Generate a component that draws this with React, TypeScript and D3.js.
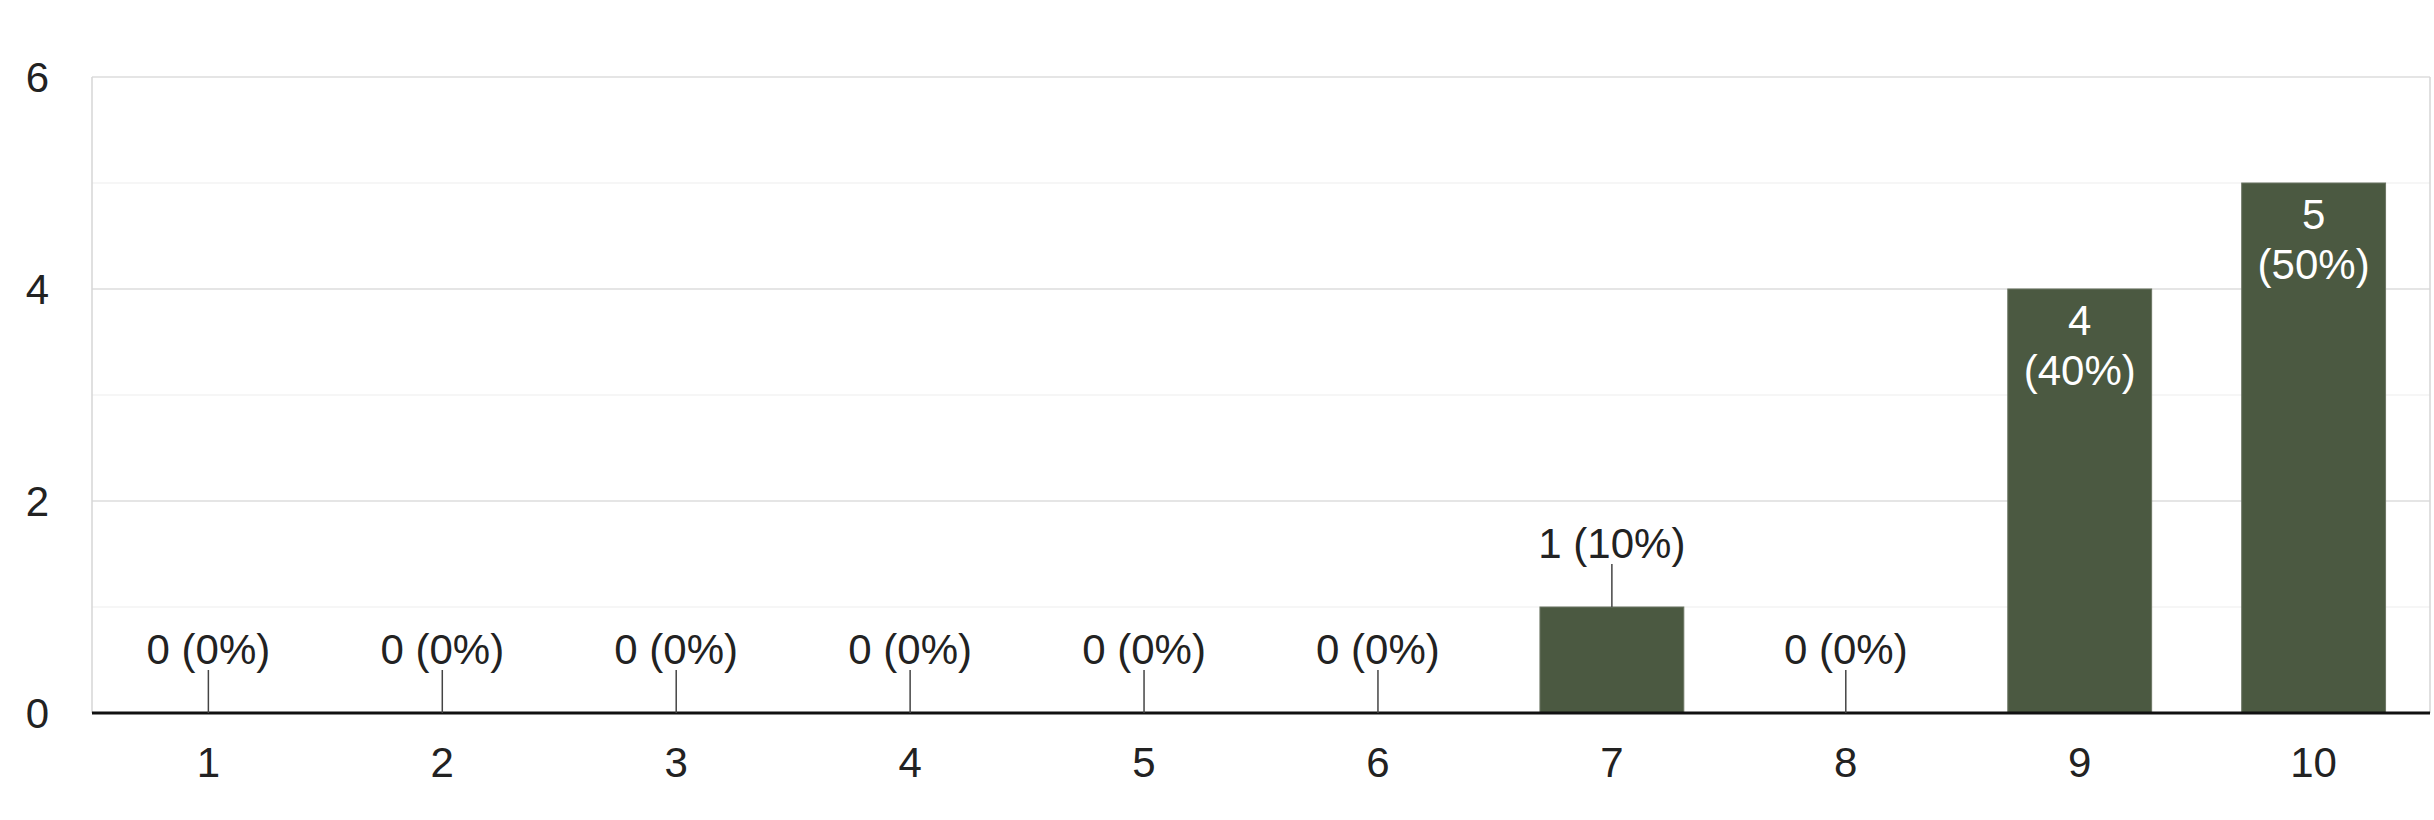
import React, { useEffect, useRef } from "react";
import * as d3 from "d3";

const categories = ["1", "2", "3", "4", "5", "6", "7", "8", "9", "10"];
const counts = [0, 0, 0, 0, 0, 0, 1, 0, 4, 5];
const percents = [0, 0, 0, 0, 0, 0, 10, 0, 40, 50];
const yTicks = [0, 2, 4, 6];
const yMinor = [1, 3, 5];

const W = 2434;
const H = 820;
const M = { left: 92, right: 4, top: 77, bottom: 107 };
const FONT = "'Liberation Sans', Arial, sans-serif";
const BAR = "#4b5941";

export default function App() {
  const ref = useRef<SVGSVGElement | null>(null);
  useEffect(() => {
    document.body.style.margin = "0";
    const svg = d3.select(ref.current);
    svg.selectAll("*").remove();
    const x = d3
      .scaleBand<string>()
      .domain(categories)
      .range([M.left, W - M.right])
      .paddingInner(0.385)
      .paddingOuter(0.19);
    const y = d3.scaleLinear().domain([0, 6]).range([H - M.bottom, M.top]);

    svg.append("rect").attr("width", W).attr("height", H).attr("fill", "#fff");

    // minor gridlines
    svg
      .selectAll(".minor")
      .data(yMinor)
      .enter()
      .append("line")
      .attr("x1", M.left)
      .attr("x2", W - M.right)
      .attr("y1", (d) => y(d))
      .attr("y2", (d) => y(d))
      .attr("stroke", "#f3f3f3")
      .attr("stroke-width", 1.5);

    // major gridlines
    svg
      .selectAll(".major")
      .data(yTicks.filter((d) => d > 0))
      .enter()
      .append("line")
      .attr("x1", M.left)
      .attr("x2", W - M.right)
      .attr("y1", (d) => y(d))
      .attr("y2", (d) => y(d))
      .attr("stroke", "#dcdcdc")
      .attr("stroke-width", 1.5);

    // side frame lines
    [M.left, W - M.right].forEach((xx) => {
      svg
        .append("line")
        .attr("x1", xx)
        .attr("x2", xx)
        .attr("y1", y(6))
        .attr("y2", y(0))
        .attr("stroke", "#d6d6d6")
        .attr("stroke-width", 1.5);
    });

    // y labels
    svg
      .selectAll(".ylab")
      .data(yTicks)
      .enter()
      .append("text")
      .attr("x", 49)
      .attr("y", (d) => y(d))
      .attr("dy", "0.36em")
      .attr("text-anchor", "end")
      .attr("font-family", FONT)
      .attr("font-size", 42)
      .attr("fill", "#222")
      .text((d) => String(d));

    // bars
    svg
      .selectAll(".bar")
      .data(categories)
      .enter()
      .append("rect")
      .attr("x", (d) => x(d)!)
      .attr("width", x.bandwidth())
      .attr("y", (d, i) => y(counts[i]))
      .attr("height", (d, i) => y(0) - y(counts[i]))
      .attr("fill", BAR)
      .attr("stroke", "#6b7563")
      .attr("stroke-width", (d, i) => (counts[i] > 0 ? 1 : 0));

    // baseline
    svg
      .append("line")
      .attr("x1", M.left)
      .attr("x2", W - M.right)
      .attr("y1", y(0))
      .attr("y2", y(0))
      .attr("stroke", "#111")
      .attr("stroke-width", 3);

    // x labels
    svg
      .selectAll(".xlab")
      .data(categories)
      .enter()
      .append("text")
      .attr("x", (d) => x(d)! + x.bandwidth() / 2)
      .attr("y", y(0) + 49)
      .attr("dy", "0.36em")
      .attr("text-anchor", "middle")
      .attr("font-family", FONT)
      .attr("font-size", 42)
      .attr("fill", "#222")
      .text((d) => d);

    // value labels
    categories.forEach((c, i) => {
      const cx = x(c)! + x.bandwidth() / 2;
      const v = counts[i];
      const top = y(v);
      if (v >= 2) {
        svg
          .append("text")
          .attr("x", cx)
          .attr("y", top + 31)
          .attr("dy", "0.36em")
          .attr("text-anchor", "middle")
          .attr("font-family", FONT)
          .attr("font-size", 42)
          .attr("fill", "#fff")
          .text(String(v));
        svg
          .append("text")
          .attr("x", cx)
          .attr("y", top + 81)
          .attr("dy", "0.36em")
          .attr("text-anchor", "middle")
          .attr("font-family", FONT)
          .attr("font-size", 42)
          .attr("fill", "#fff")
          .text(`(${percents[i]}%)`);
      } else {
        svg
          .append("line")
          .attr("x1", cx)
          .attr("x2", cx)
          .attr("y1", top)
          .attr("y2", top - 43)
          .attr("stroke", "#444")
          .attr("stroke-width", 1.5);
        svg
          .append("text")
          .attr("x", cx)
          .attr("y", top - 64)
          .attr("dy", "0.36em")
          .attr("text-anchor", "middle")
          .attr("font-family", FONT)
          .attr("font-size", 42)
          .attr("fill", "#222")
          .text(`${v} (${percents[i]}%)`);
      }
    });
  }, []);
  return (
    <svg
      ref={ref}
      width={W}
      height={H}
      style={{ position: "absolute", left: 0, top: 0, display: "block" }}
    />
  );
}
